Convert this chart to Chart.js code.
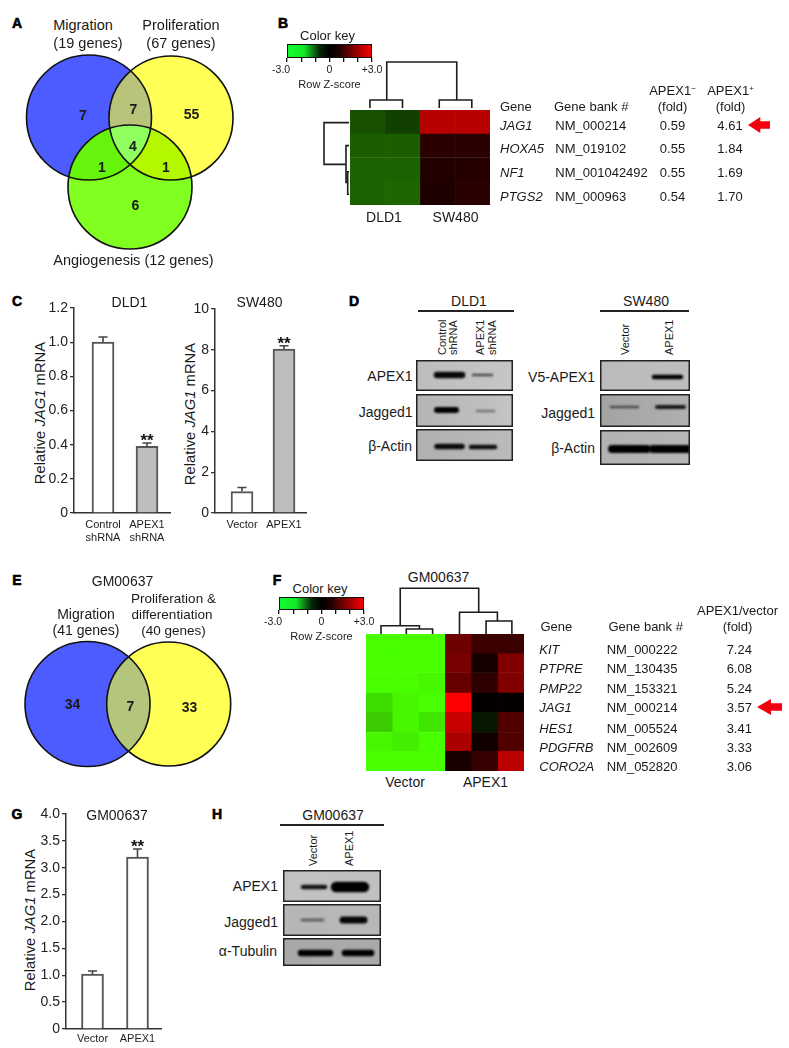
<!DOCTYPE html>
<html>
<head>
<meta charset="utf-8">
<title>APEX1 and JAG1</title>
<script src="https://cdn.jsdelivr.net/npm/chart.js@4/dist/chart.umd.js"></script>
<style>
    html, body { margin: 0; background: #fff; }
    body { position: relative; width: 789px; height: 1048px; overflow: hidden; font-family: "Liberation Sans", Arial, sans-serif; color: #1a1a1a; }
    canvas { position: absolute; }
    .t { position: absolute; white-space: nowrap; line-height: 1; }
    .letter { font-weight: bold; font-size: 18px; color: #000; -webkit-text-stroke: 0.6px #000; }
    sup { font-size: 8px; vertical-align: 4px; line-height: 0; }
</style>
</head>
<body>
<script>
// venn counts
const vennACounts = [7, 55, 6, 7, 1, 1, 4];
const vennECounts = [34, 33, 7];

// panel B heatmap, row z-scores
const genesB = ['JAG1', 'HOXA5', 'NF1', 'PTGS2'];
const accessionB = ['NM_000214', 'NM_019102', 'NM_001042492', 'NM_000963'];
const foldMinusB = ['0.59', '0.55', '0.55', '0.54'];
const foldPlusB = ['4.61', '1.84', '1.69', '1.70'];
const heatB = [
    [-0.95, -0.75, 2.15, 2.15],
    [-1.1, -1.1, 0.5, 0.5],
    [-1.15, -1.15, 0.4, 0.45],
    [-1.15, -1.2, 0.35, 0.5]
];
const colTreeB = [[1.05, 3.05, 10, 10, 48], [0.57, 1.5, 2, 2, 10], [2.55, 3.48, 2, 2, 10]];
const rowTreeB = [[0.53, 2.29, 1, 4, 26], [1.5, 3.05, 1, 2.3, 4], [2.6, 3.55, 1, 1, 2.3]];

// panel C
const dldCats = [['Control', 'shRNA'], ['APEX1', 'shRNA']];
const dldValues = [1.0, 0.39];
const dldErrors = [1.03, 0.41];
const dldTicks = [0, 0.2, 0.4, 0.6, 0.8, 1.0, 1.2];
const dldTickLabels = ['0', '0.2', '0.4', '0.6', '0.8', '1.0', '1.2'];
const dldStars = ['', '**'];

const swCats = ['Vector', 'APEX1'];
const swValues = [1.05, 8.03];
const swErrors = [1.25, 8.2];
const swTicks = [0, 2, 4, 6, 8, 10];
const swTickLabels = ['0', '2', '4', '6', '8', '10'];
const swStars = ['', '**'];

// panel D, band strength per lane
const dldApexBands = [0.95, 0.5];
const dldJaggedBands = [1, 0.22];
const dldActinBands = [0.95, 0.92];
const swApexBands = [0, 1];
const swJaggedBands = [0.5, 0.85];
const swActinBands = [1, 1];

// panel F heatmap
const genesF = ['KIT', 'PTPRE', 'PMP22', 'JAG1', 'HES1', 'PDGFRB', 'CORO2A'];
const accessionF = ['NM_000222', 'NM_130435', 'NM_153321', 'NM_000214', 'NM_005524', 'NM_002609', 'NM_052820'];
const foldF = ['7.24', '6.08', '5.24', '3.57', '3.41', '3.33', '3.06'];
const heatF = [
    [-3, -3, -3, 1.3, 0.7, 0.7],
    [-3, -3, -3, 1.4, 0.25, 1.5],
    [-3, -3, -2.9, 1.2, 0.55, 1.5],
    [-2.6, -2.9, -3, 3, 0.05, 0.05],
    [-2.4, -2.9, -2.7, 2.35, -0.3, 0.95],
    [-2.9, -2.8, -3, 2.0, 0.2, 0.95],
    [-3, -3, -3, 0.3, 0.65, 2.2]
];
const colTreeF = [[1.3, 4.28, 8.3, 21.7, 45.7], [0.57, 2.03, 0, 5, 8.3], [1.53, 2.53, 0, 0, 5], [3.55, 4.99, 0, 13, 21.7], [4.56, 5.54, 0, 0, 13]];

// panel G
const gmCats = ['Vector', 'APEX1'];
const gmValues = [1.02, 3.2];
const gmErrors = [1.08, 3.35];
const gmTicks = [0, 0.5, 1, 1.5, 2, 2.5, 3, 3.5, 4];
const gmTickLabels = ['0', '0.5', '1.0', '1.5', '2.0', '2.5', '3.0', '3.5', '4.0'];
const gmStars = ['', '**'];

// panel H
const gmApexBands = [0.88, 1];
const gmJaggedBands = [0.35, 0.97];
const gmTubulinBands = [1, 1];

const keyTicks = [-3, -2, -1, 0, 1, 2, 3];
const keyTickLabels = ['-3.0    ', '', '', '0', '', '', '+3.0'];

Chart.defaults.font.family = '"Liberation Sans", Arial, sans-serif';
Chart.defaults.color = '#1a1a1a';
Chart.defaults.animation = false;
Chart.defaults.responsive = false;
Chart.defaults.plugins.legend.display = false;
Chart.defaults.plugins.tooltip.enabled = false;

function makeCanvas(left, top, w, h) {
    const c = document.createElement('canvas');
    c.width = w;
    c.height = h;
    c.style.left = left + 'px';
    c.style.top = top + 'px';
    document.body.appendChild(c);
    return c;
}

function text(str, x, y, opts = {}) {
    const d = document.createElement('div');
    d.className = 't' + (opts.cls ? ' ' + opts.cls : '');
    d.innerHTML = str;
    d.style.left = x + 'px';
    d.style.top = y + 'px';
    d.style.fontSize = (opts.size || 14) + 'px';
    if (opts.bold) d.style.fontWeight = 'bold';
    let tr = 'translateY(-50%)';
    if (opts.align === 'center') tr = 'translate(-50%,-50%)';
    if (opts.align === 'right') tr = 'translate(-100%,-50%)';
    if (opts.rotate) tr += ' rotate(-90deg)';
    d.style.transform = tr;
    document.body.appendChild(d);
}

function vertical(str, x, bottom, size = 11) {
    const d = document.createElement('div');
    d.className = 't';
    d.innerHTML = str;
    d.style.fontSize = size + 'px';
    d.style.left = x + 'px';
    d.style.top = bottom + 'px';
    d.style.transformOrigin = '0 0';
    d.style.transform = 'rotate(-90deg) translateY(-50%)';
    document.body.appendChild(d);
}

function arrow(x, y, w, h) {
    const d = document.createElement('div');
    d.style.cssText = `position:absolute;left:${x}px;top:${y}px;width:${w}px;height:${h}px;background:#f2000f;` +
        'clip-path:polygon(0 50%,56% 0,56% 26%,100% 26%,100% 74%,56% 74%,56% 100%);';
    document.body.appendChild(d);
}

function makeRule(x, y, w) {
    const d = document.createElement('div');
    d.style.cssText = `position:absolute;left:${x}px;top:${y - 0.75}px;width:${w}px;height:1.5px;background:#222;`;
    document.body.appendChild(d);
}

// venn: circles are bubbles, the overlaps get painted on top of them
const vennPlugin = {
    id: 'vennOverlaps',
    afterDatasetsDraw(chart, args, opts) {
        const ctx = chart.ctx;
        const pts = chart.getDatasetMeta(0).data;
        const rs = chart.data.datasets[0].data.map(d => d.r);
        opts.regions.forEach(reg => {
            ctx.save();
            reg.sets.forEach(i => {
                ctx.beginPath();
                ctx.arc(pts[i].x, pts[i].y, rs[i], 0, Math.PI * 2);
                ctx.clip();
            });
            ctx.fillStyle = reg.color;
            ctx.fillRect(0, 0, chart.width, chart.height);
            ctx.restore();
        });
        ctx.lineWidth = 1.6;
        ctx.strokeStyle = '#111';
        pts.forEach((p, i) => {
            ctx.beginPath();
            ctx.arc(p.x, p.y, rs[i], 0, Math.PI * 2);
            ctx.stroke();
        });
    }
};

function venn(w, h, left, top, circles, regions) {
    const c = makeCanvas(left, top, w, h);
    new Chart(c, {
        type: 'bubble',
        data: { datasets: [{ data: circles, backgroundColor: circles.map(d => d.color), borderWidth: 0, clip: false }] },
        options: {
            layout: { padding: 0, autoPadding: false },
            plugins: { vennOverlaps: { regions } },
            scales: {
                x: { type: 'linear', display: false, min: left, max: left + w },
                y: { type: 'linear', display: false, min: top, max: top + h, reverse: true }
            }
        },
        plugins: [vennPlugin]
    });
}

function heatColor(z) {
    const k = Math.min(Math.abs(z) / 3, 1);
    if (z < 0) return `rgb(${Math.round(72 * k)},${Math.round(255 * k)},0)`;
    return `rgb(${Math.round(255 * k)},0,0)`;
}

function heatmap(left, top, w, h, rows, genes) {
    const c = makeCanvas(left, top, w, h);
    c.style.filter = 'blur(0.6px)';
    const nCols = rows[0].length;
    const datasets = [];
    for (let j = 0; j < nCols; j++) {
        const colors = rows.map(r => heatColor(r[j]));
        datasets.push({
            data: rows.map(() => 1),
            backgroundColor: colors,
            borderColor: colors,
            borderWidth: 0.6,
            borderSkipped: false,
            barPercentage: 1,
            categoryPercentage: 1
        });
    }
    new Chart(c, {
        type: 'bar',
        data: { labels: genes, datasets },
        options: {
            indexAxis: 'y',
            layout: { padding: 0, autoPadding: false },
            scales: {
                x: { stacked: true, display: false, min: 0, max: nCols },
                y: { stacked: true, display: false }
            }
        }
    });
}

function treePoints(tree, swap) {
    const pts = [];
    tree.forEach(([a, b, ha, hb, top]) => {
        const seg = [[a, ha], [a, top], [b, top], [b, hb]];
        seg.forEach(([p, q]) => pts.push(swap ? { x: q, y: p } : { x: p, y: q }));
        pts.push({ x: NaN, y: NaN });
    });
    return pts;
}

function dendro(left, top, w, h, tree, xMax, yMax, swap) {
    const c = makeCanvas(left, top, w, h);
    new Chart(c, {
        type: 'scatter',
        data: { datasets: [{ data: treePoints(tree, swap), showLine: true, spanGaps: false, borderColor: '#1c1c1c', borderWidth: 1.6, pointRadius: 0, tension: 0, clip: false }] },
        options: {
            layout: { padding: 0, autoPadding: false },
            scales: {
                // a row tree grows to the left, rows count downwards
                x: { type: 'linear', display: false, min: 0, max: xMax, reverse: !!swap },
                y: { type: 'linear', display: false, min: 0, max: yMax, reverse: !!swap }
            }
        }
    });
}

function colorKey(plotLeft, plotTop, plotW, plotH) {
    const c = makeCanvas(plotLeft - 20, plotTop - 2, plotW + 40, plotH + 22);
    new Chart(c, {
        type: 'bar',
        data: {
            labels: ['z'],
            datasets: [{
                data: [[-3, 3]],
                backgroundColor(ctx) {
                    const area = ctx.chart.chartArea;
                    if (!area) return '#000';
                    const g = ctx.chart.ctx.createLinearGradient(area.left, 0, area.right, 0);
                    g.addColorStop(0, '#10ff30');
                    g.addColorStop(0.2, '#14e828');
                    g.addColorStop(0.38, '#062a08');
                    g.addColorStop(0.5, '#000');
                    g.addColorStop(0.62, '#200000');
                    g.addColorStop(0.78, '#800000');
                    g.addColorStop(1, '#ff0000');
                    return g;
                },
                borderColor: '#111',
                borderWidth: 1.4,
                borderSkipped: false,
                barPercentage: 1,
                categoryPercentage: 1
            }]
        },
        options: {
            indexAxis: 'y',
            layout: { padding: { left: 20, right: 20, top: 2, bottom: 0 } },
            scales: {
                x: {
                    type: 'linear', min: -3, max: 3, offset: false,
                    afterBuildTicks(s) { s.ticks = keyTicks.map(v => ({ value: v })); },
                    afterFit(s) { s.height = 20; },
                    border: { display: false },
                    grid: { drawOnChartArea: false, color: '#111', tickLength: 4, lineWidth: 1.3 },
                    ticks: { autoSkip: false, maxRotation: 0, padding: 2, font: { size: 10.5 }, color: '#222', callback: (v, i) => keyTickLabels[i] }
                },
                y: { display: false }
            }
        }
    });
}

// error caps and significance stars, placed through the scales
const errorPlugin = {
    id: 'errorCaps',
    afterDatasetsDraw(chart, args, opts) {
        const ctx = chart.ctx;
        const meta = chart.getDatasetMeta(0);
        ctx.save();
        ctx.strokeStyle = '#444';
        ctx.lineWidth = 1.6;
        opts.errors.forEach((e, i) => {
            const x = meta.data[i].x;
            const yTop = chart.scales.y.getPixelForValue(e);
            const yBar = chart.scales.y.getPixelForValue(chart.data.datasets[0].data[i].y);
            ctx.beginPath();
            ctx.moveTo(x, yBar);
            ctx.lineTo(x, yTop);
            ctx.moveTo(x - 4.5, yTop);
            ctx.lineTo(x + 4.5, yTop);
            ctx.stroke();
            if (opts.stars[i]) {
                ctx.fillStyle = '#111';
                ctx.font = 'bold 17px "Liberation Sans"';
                ctx.textAlign = 'center';
                ctx.textBaseline = 'alphabetic';
                ctx.fillText(opts.stars[i], x, yTop + 3.5);
            }
        });
        ctx.restore();
    }
};

function barChart(o) {
    const gutter = 44, pad = 12, footer = 40;
    const c = makeCanvas(o.axisX - gutter, o.topY - pad, o.rightX - o.axisX + gutter + 8, o.bottomY - o.topY + pad + footer);
    const plotW = o.rightX - o.axisX;
    new Chart(c, {
        type: 'bar',
        data: {
            datasets: [{
                data: o.values.map((v, i) => ({ x: i, y: v })),
                backgroundColor: o.fills,
                borderColor: '#555',
                borderWidth: 2,
                barThickness: 22
            }]
        },
        options: {
            layout: { padding: { top: pad, right: 8, left: 0, bottom: 0 }, autoPadding: false },
            plugins: { errorCaps: { errors: o.errors, stars: o.stars } },
            scales: {
                x: {
                    type: 'linear',
                    offset: false,
                    min: -(o.lane0 - o.axisX) / o.laneStep,
                    max: (plotW - (o.lane0 - o.axisX)) / o.laneStep,
                    afterBuildTicks(s) { s.ticks = o.cats.map((_, i) => ({ value: i })); },
                    afterFit(s) { s.height = footer; },
                    border: { color: '#333', width: 1.5 },
                    grid: { display: false, drawTicks: false },
                    ticks: { autoSkip: false, maxRotation: 0, padding: o.labelPad, font: { size: 11 }, color: '#222', callback: (v, i) => o.cats[i] }
                },
                y: {
                    min: o.ticksV[0],
                    max: o.ticksV[o.ticksV.length - 1],
                    afterBuildTicks(s) { s.ticks = o.ticksV.map(v => ({ value: v })); },
                    afterFit(s) { s.width = gutter; },
                    border: { color: '#333', width: 1.5 },
                    grid: { drawOnChartArea: false, color: '#333', tickLength: 4, lineWidth: 1.3 },
                    ticks: { autoSkip: false, padding: 2, font: { size: 14 }, color: '#222', callback: (v, i) => o.tickLabels[i] }
                }
            }
        },
        plugins: [errorPlugin]
    });
}

// western blot panel: bands are thick blurred lines on a grey strip
const blotPlugin = {
    id: 'blotStrip',
    beforeDraw(chart, args, opts) {
        const ctx = chart.ctx;
        const g = ctx.createLinearGradient(0, 0, chart.width, 0);
        g.addColorStop(0, opts.tone[0]);
        g.addColorStop(1, opts.tone[1]);
        ctx.fillStyle = g;
        ctx.fillRect(0, 0, chart.width, chart.height);
    },
    beforeDatasetsDraw(chart) {
        chart.ctx.save();
        chart.ctx.filter = 'blur(0.9px)';
    },
    afterDatasetsDraw(chart) {
        chart.ctx.restore();
    },
    afterDraw(chart) {
        const ctx = chart.ctx;
        ctx.strokeStyle = '#222';
        ctx.lineWidth = 1.5;
        ctx.strokeRect(0.75, 0.75, chart.width - 1.5, chart.height - 1.5);
    }
};

function blot(left, top, w, h, tone, strengths, shape) {
    const c = makeCanvas(left, top, w, h);
    const datasets = [];
    strengths.forEach((s, i) => {
        if (!s) return;
        const v = Math.round(150 * (1 - s));
        datasets.push({
            data: [{ x: shape[i][0], y: shape[i][3] }, { x: shape[i][1], y: shape[i][3] }],
            showLine: true,
            borderColor: `rgb(${v},${v},${v})`,
            borderWidth: shape[i][2],
            borderCapStyle: 'round',
            pointRadius: 0,
            clip: false
        });
    });
    new Chart(c, {
        type: 'scatter',
        data: { datasets },
        options: {
            layout: { padding: 0, autoPadding: false },
            plugins: { blotStrip: { tone } },
            scales: {
                x: { type: 'linear', display: false, min: 0, max: w },
                y: { type: 'linear', display: false, min: 0, max: h, reverse: true }
            }
        },
        plugins: [blotPlugin]
    });
}

/* ---------- panel letters ---------- */
[['A', 17, 23], ['B', 283, 23], ['C', 17, 301], ['D', 354, 301], ['E', 17, 580], ['F', 277, 580], ['G', 17, 814], ['H', 217, 814]]
    .forEach(([l, x, y]) => text(l, x, y, { cls: 'letter', align: 'center' }));

/* ---------- A ---------- */
venn(230, 210, 10, 48, [
    { x: 89, y: 117.5, r: 62.5, color: '#4d5cff' },
    { x: 171, y: 118, r: 62, color: '#ffff55' },
    { x: 130, y: 187, r: 62, color: '#80ff20' }
], [
    { sets: [0, 1], color: '#b9c47a' },
    { sets: [0, 2], color: '#66f40c' },
    { sets: [1, 2], color: '#b4f800' },
    { sets: [0, 1, 2], color: '#90ff60' }
]);
text('Migration', 83, 24.5, { size: 14.5, align: 'center' });
text('(19 genes)', 88, 43, { size: 14.5, align: 'center' });
text('Proliferation', 181, 24.5, { size: 14.5, align: 'center' });
text('(67 genes)', 181, 43, { size: 14.5, align: 'center' });
text('Angiogenesis (12 genes)', 133.5, 259.5, { size: 14.5, align: 'center' });
[[83, 115], [191.5, 114], [135.5, 205], [133.5, 109], [102, 167], [166, 167], [133, 145.5]].forEach(([x, y], i) => {
    text(vennACounts[i], x, y, { size: 14, align: 'center', bold: true });
});

/* ---------- B ---------- */
text('Color key', 327.5, 35, { size: 13, align: 'center' });
colorKey(287, 44, 85, 14);
text('Row Z-score', 329.5, 83.5, { size: 11, align: 'center' });
heatmap(350, 110, 140, 95, heatB, genesB);
dendro(350, 60, 140, 50, colTreeB, 4, 50, false);
dendro(320, 110, 30, 95, rowTreeB, 30, 4, true);
text('DLD1', 384, 217, { align: 'center' });
text('SW480', 455.5, 217, { align: 'center' });
text('Gene', 500, 106, { size: 13 });
text('Gene bank #', 554, 106, { size: 13 });
text('APEX1<sup>&minus;</sup>', 672.5, 90, { size: 13, align: 'center' });
text('(fold)', 672.5, 106, { size: 13, align: 'center' });
text('APEX1<sup>+</sup>', 730.5, 90, { size: 13, align: 'center' });
text('(fold)', 730.5, 106, { size: 13, align: 'center' });
[124.7, 148.3, 171.7, 196.3].forEach((y, i) => {
    text('<i>' + genesB[i] + '</i>', 500, y, { size: 13 });
    text(accessionB[i], 555.3, y, { size: 13 });
    text(foldMinusB[i], 672.5, y, { size: 13, align: 'center' });
    text(foldPlusB[i], 730, y, { size: 13, align: 'center' });
});
arrow(748, 117, 22, 16);

/* ---------- C ---------- */
text('DLD1', 129.5, 302, { size: 14, align: 'center' });
text('SW480', 259.5, 302, { size: 14, align: 'center' });
text('Relative <i>JAG1</i> mRNA', 40, 413, { size: 14.8, align: 'center', rotate: true });
text('Relative <i>JAG1</i> mRNA', 190, 413.5, { size: 14.8, align: 'center', rotate: true });
barChart({
    axisX: 74, topY: 308, bottomY: 513, rightX: 170, lane0: 103, laneStep: 44, labelPad: 5,
    values: dldValues, errors: dldErrors, stars: dldStars, cats: dldCats,
    ticksV: dldTicks, tickLabels: dldTickLabels, fills: ['#ffffff', '#bdbdbd']
});
barChart({
    axisX: 215, topY: 309, bottomY: 513, rightX: 306, lane0: 242, laneStep: 42, labelPad: 5,
    values: swValues, errors: swErrors, stars: swStars, cats: swCats,
    ticksV: swTicks, tickLabels: swTickLabels, fills: ['#ffffff', '#bdbdbd']
});

/* ---------- D ---------- */
text('DLD1', 469, 301, { align: 'center' });
text('SW480', 646, 301, { align: 'center' });
makeRule(418, 311, 96);
makeRule(600, 311, 89);
vertical('Control', 441.5, 355);
vertical('shRNA', 453, 355);
vertical('APEX1', 480, 355);
vertical('shRNA', 491.5, 355);
vertical('Vector', 625, 355);
vertical('APEX1', 669, 355);
text('APEX1', 412.5, 376, { align: 'right' });
text('Jagged1', 412.5, 412, { align: 'right' });
text('&beta;-Actin', 412, 446, { align: 'right' });
text('V5-APEX1', 595, 377, { align: 'right' });
text('Jagged1', 595, 413, { align: 'right' });
text('&beta;-Actin', 595, 448, { align: 'right' });
blot(416, 360, 97, 31, ['#bdbdbd', '#c6c6c6'], dldApexBands, [[21, 46, 6.5, 15], [57, 76, 2.5, 15]]);
blot(416, 394, 97, 33, ['#b4b4b4', '#c4c4c4'], dldJaggedBands, [[21, 40, 6, 16], [61, 78, 2.5, 17]]);
blot(416, 429, 97, 32, ['#b0b0b0', '#bbbbbb'], dldActinBands, [[21, 46, 5.5, 17.5], [55, 79, 4.5, 18]]);
blot(600, 360, 90, 31, ['#bbbbbb', '#bebebe'], swApexBands, [[0, 1, 1, 1], [54, 81, 4.5, 17]]);
blot(600, 394, 90, 33, ['#a3a3a3', '#b0b0b0'], swJaggedBands, [[11, 38, 2.5, 13], [57, 84, 4, 13]]);
blot(600, 430, 90, 35, ['#b2b2b2', '#b6b6b6'], swActinBands, [[12, 47, 8, 19], [53, 89, 8, 19]]);

/* ---------- E ---------- */
text('GM00637', 122.5, 581, { align: 'center' });
text('Migration', 86, 613.5, { size: 14, align: 'center' });
text('(41 genes)', 86, 629.5, { size: 14, align: 'center' });
text('Proliferation &amp;', 173.5, 599, { size: 13.5, align: 'center' });
text('differentiation', 172, 614.5, { size: 13.5, align: 'center' });
text('(40 genes)', 173.5, 631, { size: 13.5, align: 'center' });
venn(230, 140, 10, 637, [
    { x: 87.5, y: 704, r: 62.5, color: '#4d5cff' },
    { x: 168.7, y: 704, r: 62, color: '#ffff55' }
], [{ sets: [0, 1], color: '#b3c67c' }]);
[[72.5, 704], [189.5, 706.5], [130.5, 706]].forEach(([x, y], i) => {
    text(vennECounts[i], x, y, { size: 14, align: 'center', bold: true });
});

/* ---------- F ---------- */
text('GM00637', 438.5, 577, { align: 'center' });
text('Color key', 320, 587.5, { size: 13, align: 'center' });
colorKey(279, 597, 85, 13);
text('Row Z-score', 321.5, 636, { size: 11, align: 'center' });
heatmap(366, 634, 158, 137, heatF, genesF);
dendro(366, 584, 158, 50, colTreeF, 6, 50, false);
text('Vector', 405, 782, { align: 'center' });
text('APEX1', 485.5, 782, { align: 'center' });
text('Gene', 540.5, 625.5, { size: 13 });
text('Gene bank #', 608.5, 625.5, { size: 13 });
text('APEX1/vector', 737.5, 610, { size: 13, align: 'center' });
text('(fold)', 737.5, 625.5, { size: 13, align: 'center' });
[649.3, 667.7, 687.7, 707.3, 727.7, 746.7, 766].forEach((y, i) => {
    text('<i>' + genesF[i] + '</i>', 539.3, y, { size: 13 });
    text(accessionF[i], 606.7, y, { size: 13 });
    text(foldF[i], 739.3, y, { size: 13, align: 'center' });
});
arrow(757, 699, 25, 16);

/* ---------- G ---------- */
text('GM00637', 117, 815, { align: 'center' });
text('Relative <i>JAG1</i> mRNA', 30, 920, { size: 14.8, align: 'center', rotate: true });
barChart({
    axisX: 66, topY: 814, bottomY: 1029, rightX: 161, lane0: 92.5, laneStep: 45, labelPad: 3,
    values: gmValues, errors: gmErrors, stars: gmStars, cats: gmCats,
    ticksV: gmTicks, tickLabels: gmTickLabels, fills: ['#ffffff', '#ffffff']
});

/* ---------- H ---------- */
text('GM00637', 333, 815, { align: 'center' });
makeRule(280, 825, 104);
vertical('Vector', 312.5, 866);
vertical('APEX1', 348.5, 866);
text('APEX1', 278, 886, { align: 'right' });
text('Jagged1', 278, 922, { align: 'right' });
text('&alpha;-Tubulin', 277, 951, { align: 'right' });
blot(283, 870, 98, 32, ['#c2c2c2', '#c0c0c0'], gmApexBands, [[20, 42, 4.5, 17], [53, 81, 10.5, 17]]);
blot(283, 904, 98, 32, ['#b6b6b6', '#b8b8b8'], gmJaggedBands, [[19, 40, 3, 16], [60, 81, 7, 16]]);
blot(283, 938, 98, 28, ['#a8a8a8', '#aaaaaa'], gmTubulinBands, [[18, 47, 6.5, 15], [62, 88, 6.5, 15]]);
</script>
</body>
</html>
